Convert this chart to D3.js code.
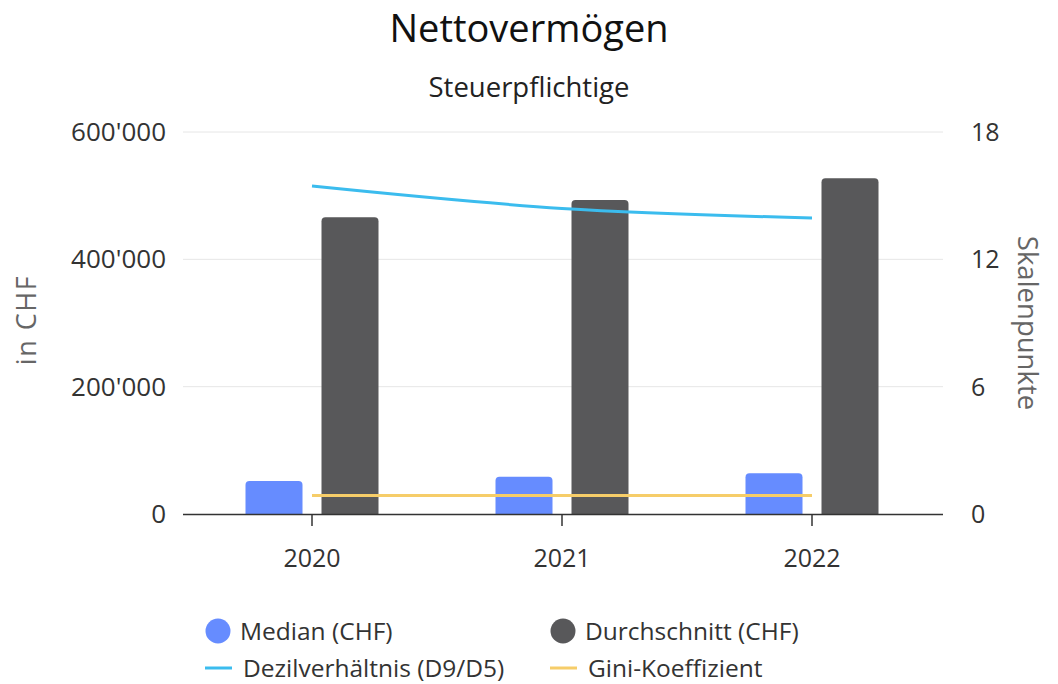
<!DOCTYPE html>
<html lang="de">
<head>
<meta charset="UTF-8">
<title>Nettovermögen</title>
<script src="https://d3js.org/d3.v7.min.js"></script>
<style>
  body { margin: 0; background: #fff; }
  text { font-family: "Open Sans", "Noto Sans", sans-serif; }
</style>
</head>
<body>
<div id="chart"></div>
<script>
// Data
const years = ["2020", "2021", "2022"];
const median = [52000, 58500, 64000];
const durchschnitt = [466000, 493000, 527500];
const dezil = [15.45, 14.4, 13.95];
const gini = [0.87, 0.87, 0.87];
const leftTicks = [0, 200000, 400000, 600000];
const rightTicks = [0, 6, 12, 18];

const colors = {
    median: "#668cff",
    mean: "#58585a",
    dezil: "#3bbcee",
    gini: "#f6cd69"
};

const width = 1058, height = 684;
const plot = { left: 183, right: 943, top: 132, bottom: 514 };

const svg = d3.select("#chart").append("svg")
    .attr("width", width)
    .attr("height", height);

const x = d3.scaleBand().domain(years).range([187, 937]);
const yL = d3.scaleLinear().domain([0, 600000]).range([plot.bottom, plot.top]);
const yR = d3.scaleLinear().domain([0, 18]).range([plot.bottom, plot.top]);

const fmt = d => d3.format(",")(d).replace(/,/g, "'");

// title
svg.append("text").attr("x", 529).attr("y", 42)
    .attr("text-anchor", "middle").attr("font-size", 38).attr("fill", "#111")
    .text("Nettovermögen");
svg.append("text").attr("x", 529).attr("y", 97)
    .attr("text-anchor", "middle").attr("font-size", 27.5).attr("fill", "#222")
    .text("Steuerpflichtige");

// gridlines
svg.append("g").selectAll("line").data(leftTicks.slice(1)).enter().append("line")
    .attr("x1", plot.left).attr("x2", plot.right)
    .attr("y1", d => yL(d)).attr("y2", d => yL(d))
    .attr("stroke", "#e6e6e6").attr("stroke-width", 1);

// axis labels
svg.append("g").selectAll("text").data(leftTicks).enter().append("text")
    .attr("x", 166).attr("y", d => yL(d) + 9)
    .attr("text-anchor", "end").attr("font-size", 26).attr("fill", "#333")
    .text(fmt);
svg.append("g").selectAll("text").data(rightTicks).enter().append("text")
    .attr("x", 971).attr("y", d => yR(d) + 9)
    .attr("text-anchor", "start").attr("font-size", 25).attr("fill", "#333")
    .text(d => d);

svg.append("text").attr("transform", "translate(36,320) rotate(-90)")
    .attr("text-anchor", "middle").attr("font-size", 27).attr("fill", "#666")
    .attr("letter-spacing", 1.5)
    .text("in CHF");
svg.append("text").attr("transform", "translate(1018,323) rotate(90)")
    .attr("text-anchor", "middle").attr("font-size", 27.5).attr("fill", "#666")
    .text("Skalenpunkte");

// bars
const barW = 57;
function barPath(x0, y0, w, h, r) {
    r = Math.min(r, h);
    return `M${x0},${y0 + h}V${y0 + r}Q${x0},${y0} ${x0 + r},${y0}H${x0 + w - r}Q${x0 + w},${y0} ${x0 + w},${y0 + r}V${y0 + h}Z`;
}
const cx = d => x(d) + x.bandwidth() / 2;

svg.append("g").selectAll("path").data(years).enter().append("path")
    .attr("d", (d, i) => barPath(cx(d) - 38 - barW / 2, yL(median[i]), barW, yL(0) - yL(median[i]), 4))
    .attr("fill", colors.median);
svg.append("g").selectAll("path").data(years).enter().append("path")
    .attr("d", (d, i) => barPath(cx(d) + 38 - barW / 2, yL(durchschnitt[i]), barW, yL(0) - yL(durchschnitt[i]), 4))
    .attr("fill", colors.mean);

// lines
const lineGen = d3.line().x((d, i) => cx(years[i])).y(d => yR(d)).curve(d3.curveMonotoneX);
svg.append("path").attr("d", lineGen(dezil))
    .attr("fill", "none").attr("stroke", colors.dezil).attr("stroke-width", 3);
svg.append("path").attr("d", lineGen(gini))
    .attr("fill", "none").attr("stroke", colors.gini).attr("stroke-width", 3);

// x axis
svg.append("line").attr("x1", plot.left).attr("x2", plot.right)
    .attr("y1", plot.bottom + 0.5).attr("y2", plot.bottom + 0.5)
    .attr("stroke", "#333").attr("stroke-width", 1.5);
svg.append("g").selectAll("line").data(years).enter().append("line")
    .attr("x1", cx).attr("x2", cx)
    .attr("y1", plot.bottom).attr("y2", plot.bottom + 12)
    .attr("stroke", "#333").attr("stroke-width", 1.5);
svg.append("g").selectAll("text").data(years).enter().append("text")
    .attr("x", cx).attr("y", 567)
    .attr("text-anchor", "middle").attr("font-size", 25).attr("fill", "#333")
    .text(d => d);

// legend
const legendItems = [
    { label: "Median (CHF)", color: colors.median, type: "circle", x: 218, y: 631 },
    { label: "Durchschnitt (CHF)", color: colors.mean, type: "circle", x: 563, y: 631 },
    { label: "Dezilverhältnis (D9/D5)", color: colors.dezil, type: "line", x: 218, y: 668 },
    { label: "Gini-Koeffizient", color: colors.gini, type: "line", x: 563, y: 668 }
];
const lg = svg.append("g").selectAll("g").data(legendItems).enter().append("g")
    .attr("transform", d => `translate(${d.x},${d.y})`);
lg.filter(d => d.type === "circle").append("circle")
    .attr("r", 12.5).attr("fill", d => d.color);
lg.filter(d => d.type === "line").append("line")
    .attr("x1", -13).attr("x2", 14).attr("stroke", d => d.color).attr("stroke-width", 3);
lg.append("text").attr("x", d => d.type === "circle" ? 22 : 25).attr("y", 9)
    .attr("font-size", 24.5).attr("fill", "#333")
    .text(d => d.label);
</script>
</body>
</html>
